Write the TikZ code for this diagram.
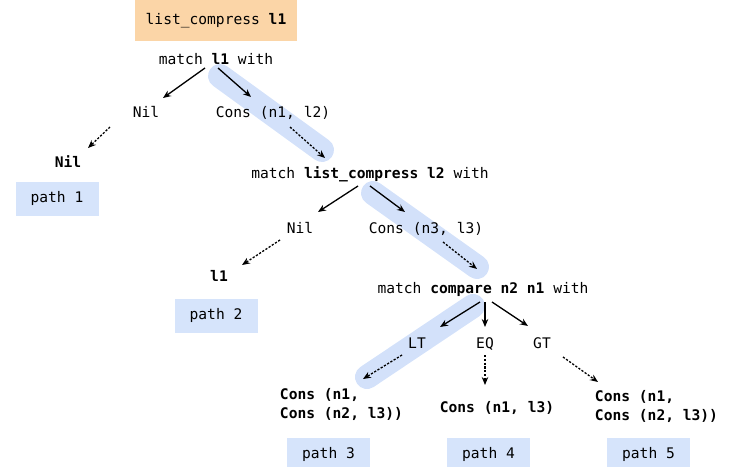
\documentclass[tikz,border=0pt]{standalone}
\usepackage{fontspec}
\setmonofont{DejaVu Sans Mono}
\usetikzlibrary{arrows.meta}
\definecolor{hiblue}{HTML}{D3E1FA}
\definecolor{pathblue}{HTML}{D6E4FB}
\definecolor{topor}{HTML}{FBD5A7}
\tikzset{
  txt/.style={inner sep=2pt, text height=13pt, text depth=0pt, font=\ttfamily\fontsize{14.6}{19}\selectfont},
  pathbox/.style={txt, text height=10pt, text depth=3pt, fill=pathblue, minimum width=83pt, minimum height=34pt},
  arr/.style={-{Stealth[length=8pt,width=6.5pt]}, line width=1.3pt},
  darr/.style={arr, dash pattern=on 2.2pt off 1.6pt},
  band/.style={hiblue, line width=24pt, line cap=round}
}
\begin{document}
\begin{tikzpicture}[x=1pt, y=-1pt]
\useasboundingbox (0,0) rectangle (730,466);

% highlighted path
\draw [band] (220,76) -- (322,150);
\draw [band] (373,193) -- (477,267);
\draw [band] (473,306) -- (367,377);

\node [txt, text height=10pt, text depth=3pt, fill=topor, minimum width=162pt, minimum height=41pt] (top) at (216,20.5) {list\_compress \textbf{l1}};

\node [txt] (m1) at (216,58) {match \textbf{l1} with};
\node [txt] (nil1) at (146,111) {Nil};
\node [txt] (cons1) at (273,111) {Cons (n1, l2)};
\node [txt] (r1) at (68,161) {\textbf{Nil}};
\node [pathbox] (p1) at (57,199) {path 1};

\node [txt] (m2) at (370,172) {match \textbf{list\_compress l2} with};
\node [txt] (nil2) at (300,227) {Nil};
\node [txt] (cons2) at (426,227) {Cons (n3, l3)};
\node [txt] (r2) at (219,275) {\textbf{l1}};
\node [pathbox] (p2) at (216,316) {path 2};

\node [txt] (m3) at (483,287) {match \textbf{compare n2 n1} with};
\node [txt] (lt) at (417,342) {LT};
\node [txt] (eq) at (485,342) {EQ};
\node [txt] (gt) at (542,342) {GT};
\node [txt, align=left, text height=, text depth=] (r3) at (341.5,404) {\textbf{Cons (n1,}\\\textbf{Cons (n2, l3))}};
\node [txt] (r4) at (497,406) {\textbf{Cons (n1, l3)}};
\node [txt, align=left, text height=, text depth=] (r5) at (656.5,406) {\textbf{Cons (n1,}\\\textbf{Cons (n2, l3))}};
\node [pathbox] (p3) at (328.5,455) {path 3};
\node [pathbox] (p4) at (488.5,455) {path 4};
\node [pathbox] (p5) at (648.5,455) {path 5};

% first match
\draw [arr] ([shift={(-11,10)}]m1.center) -- ([shift={(17,-13)}]nil1.center);
\draw [arr] ([shift={(2,10)}]m1.center) -- ([shift={(-22,-14)}]cons1.center);
\draw [darr] ([shift={(-36,16)}]nil1.center) -- ([shift={(20,-13)}]r1.center);
\draw [darr] ([shift={(17,16)}]cons1.center) -- ([shift={(-45,-14)}]m2.center);

% second match
\draw [arr] ([shift={(-12,14)}]m2.center) -- ([shift={(18,-15)}]nil2.center);
\draw [arr] ([shift={(0,14)}]m2.center) -- ([shift={(-21,-15)}]cons2.center);
\draw [darr] ([shift={(-20,13)}]nil2.center) -- ([shift={(23,-10)}]r2.center);
\draw [darr] ([shift={(17,15)}]cons2.center) -- ([shift={(-6,-18)}]m3.center);

% compare
\draw [arr] ([shift={(-3,15)}]m3.center) -- ([shift={(23,-15)}]lt.center);
\draw [arr] ([shift={(2,15)}]m3.center) -- ([shift={(0,-15)}]eq.center);
\draw [arr] ([shift={(9,15)}]m3.center) -- ([shift={(-14,-16)}]gt.center);
\draw [darr] ([shift={(-15,13)}]lt.center) -- ([shift={(21.5,-25)}]r3.center);
\draw [darr] ([shift={(0,13)}]eq.center) -- ([shift={(-12,-21)}]r4.center);
\draw [darr] ([shift={(21,15)}]gt.center) -- ([shift={(-58.5,-24)}]r5.center);
\end{tikzpicture}
\end{document}
